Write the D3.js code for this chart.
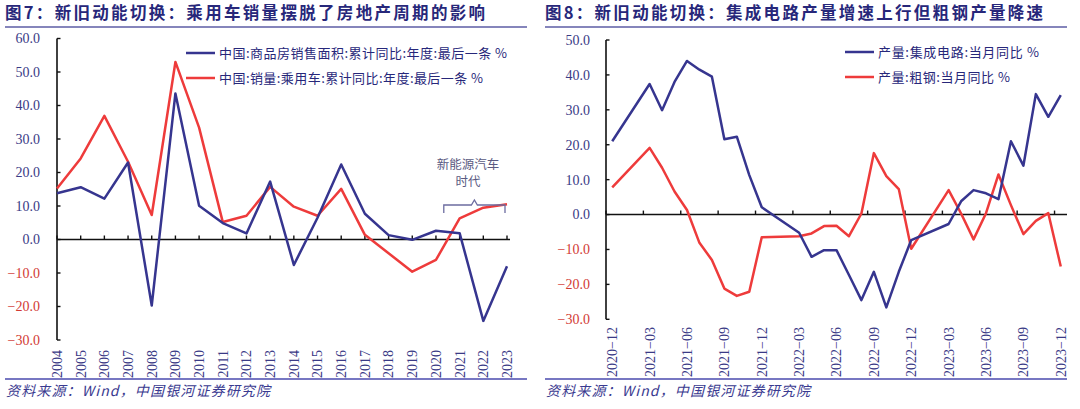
<!DOCTYPE html>
<html><head><meta charset="utf-8">
<script src="https://cdn.jsdelivr.net/npm/d3@7"></script>
<style>
html,body{margin:0;padding:0;background:#fff;}
svg{display:block;}
</style></head>
<body>
<svg id="c" width="1080" height="409"></svg>
<script>
// ---------- Data: chart 1 (annual) ----------
const years = ["2004","2005","2006","2007","2008","2009","2010","2011","2012","2013","2014","2015","2016","2017","2018","2019","2020","2021","2022","2023"];
const housingSales = [13.8,15.6,12.2,23.0,-19.7,43.6,10.1,4.9,1.8,17.3,-7.6,6.5,22.4,7.7,1.3,-0.1,2.6,1.9,-24.3,-8.0];
const carSales = [15.2,24.2,36.9,23.2,7.3,53.0,33.4,5.2,7.1,15.7,9.8,7.1,15.1,1.4,-4.1,-9.6,-6.1,6.3,9.5,10.5];
const leftTicks = [60,50,40,30,20,10,0,-10,-20,-30];
const leftLegend = ["中国:商品房销售面积:累计同比:年度:最后一条 %","中国:销量:乘用车:累计同比:年度:最后一条 %"];

// ---------- Data: chart 2 (monthly) ----------
const months = ["2020-12","2021-01","2021-02","2021-03","2021-04","2021-05","2021-06","2021-07","2021-08","2021-09","2021-10","2021-11","2021-12",
  "2022-01","2022-02","2022-03","2022-04","2022-05","2022-06","2022-07","2022-08","2022-09","2022-10","2022-11","2022-12",
  "2023-01","2023-02","2023-03","2023-04","2023-05","2023-06","2023-07","2023-08","2023-09","2023-10","2023-11","2023-12"];
const icOutput = [21.0,null,null,37.4,29.9,38.0,44.0,41.5,39.5,21.6,22.3,11.3,2.1,
  null,null,-5.2,-12.1,-10.2,-10.2,-17.3,-24.5,-16.4,-26.6,-16.4,-7.3,
  null,null,-2.7,3.8,7.0,6.1,4.4,21.0,14.0,34.5,28.0,34.2];
const steelOutput = [7.8,null,null,19.1,13.4,6.6,1.3,-8.1,-13.0,-21.2,-23.3,-22.1,-6.5,
  null,null,-6.2,-5.4,-3.3,-3.2,-6.2,0.3,17.6,11.0,7.3,-9.8,
  null,null,7.0,0.3,-7.1,0.4,11.5,2.7,-5.6,-1.8,0.4,-14.9];
const rightTicks = [50,40,30,20,10,0,-10,-20,-30];
const rightLegend = ["产量:集成电路:当月同比 %","产量:粗钢:当月同比 %"];

const titles = ["图7：新旧动能切换：乘用车销量摆脱了房地产周期的影响","图8：新旧动能切换：集成电路产量增速上行但粗钢产量降速"];
const source = "资料来源：Wind，中国银河证券研究院";
const annotation = ["新能源汽车","时代"];

// ---------- Styles ----------
const BLUE = "#36358f", RED = "#ee3b3b", NAVY = "#27277a", LBL_BLUE = "#3a3a86", LBL_RED = "#d23a35";
const CJK = "'Noto Sans CJK SC','Noto Sans',sans-serif";
const SERIF = "'Liberation Serif','DejaVu Serif',serif";

const svg = d3.select("#c");

function header(x0, x1, title, tlen){
  svg.append("text").attr("x", x0).attr("y", 19).attr("font-family", CJK).attr("font-weight", 700)
    .attr("font-size", 16.5).attr("fill", NAVY).attr("textLength", tlen)
    .attr("lengthAdjust", "spacing").text(title);
  svg.append("line").attr("x1", x0).attr("x2", x1).attr("y1", 27).attr("y2", 27)
    .attr("stroke", "#8585bb").attr("stroke-width", 2.2);
  svg.append("line").attr("x1", x0).attr("x2", x1).attr("y1", 379).attr("y2", 379)
    .attr("stroke", "#7777c2").attr("stroke-width", 2);
  svg.append("text").attr("x", x0 + 1).attr("y", 396).attr("font-family", CJK).attr("font-style", "italic")
    .attr("font-size", 14).attr("fill", "#3a3a90").attr("textLength", 264).attr("lengthAdjust","spacing").text(source);
}

function yAxis(g, y, ticks, x, labelX){
  g.append("line").attr("x1", x).attr("x2", x).attr("y1", y(ticks[0])).attr("y2", y(ticks[ticks.length-1]))
    .attr("stroke", "#111").attr("stroke-width", 1.6);
  ticks.forEach(t => {
    g.append("line").attr("x1", x).attr("x2", x + 3.5).attr("y1", y(t)).attr("y2", y(t)).attr("stroke", "#111").attr("stroke-width", 1.4);
    g.append("text").attr("x", labelX).attr("y", y(t)).attr("dy", "0.35em").attr("text-anchor", "end")
      .attr("font-family", SERIF).attr("font-size", 14).attr("fill", t < 0 ? LBL_RED : LBL_BLUE)
      .text(d3.format(".1f")(t).replace("-", "−"));
  });
}

function legend(g, x, y0, labels, lens){
  labels.forEach((lab, i) => {
    const yy = y0 + i * 25;
    g.append("line").attr("x1", x).attr("x2", x + 29).attr("y1", yy).attr("y2", yy)
      .attr("stroke", i === 0 ? BLUE : RED).attr("stroke-width", 2.5);
    g.append("text").attr("x", x + 33).attr("y", yy).attr("dy", "0.35em").attr("font-family", CJK)
      .attr("font-size", 13).attr("fill", NAVY).attr("textLength", lens[i]).attr("lengthAdjust","spacing").text(lab);
  });
}

// ================= Chart 1 =================
header(5, 527, titles[0], 480);
{
  const g = svg.append("g");
  const x = d3.scalePoint().domain(years).range([57, 507]);
  const y = d3.scaleLinear().domain([-30, 60]).range([340, 38.5]);
  yAxis(g, y, leftTicks, 57, 40);
  g.append("line").attr("x1", 57).attr("x2", 510).attr("y1", y(0)).attr("y2", y(0)).attr("stroke", "#111").attr("stroke-width", 1.6);
  years.forEach(yr => {
    g.append("line").attr("x1", x(yr)).attr("x2", x(yr)).attr("y1", y(0)).attr("y2", y(0) - 4).attr("stroke", "#111").attr("stroke-width", 1.4);
    g.append("text").attr("transform", `translate(${x(yr)},350) rotate(-90)`).attr("dy", "0.35em")
      .attr("text-anchor", "end").attr("font-family", SERIF).attr("font-size", 14).attr("fill", LBL_BLUE).text(yr);
  });
  const line = d3.line().x((d, i) => x(years[i])).y(d => y(d));
  g.append("path").datum(carSales).attr("d", line).attr("fill", "none").attr("stroke", RED).attr("stroke-width", 2.5).attr("stroke-linejoin","round");
  g.append("path").datum(housingSales).attr("d", line).attr("fill", "none").attr("stroke", BLUE).attr("stroke-width", 2.5).attr("stroke-linejoin","round");
  legend(g, 186, 53, leftLegend, [288, 264]);
  g.append("text").attr("x", 468).attr("y", 165).attr("dy","0.35em").attr("text-anchor","middle").attr("font-family", CJK)
    .attr("font-size", 12.5).attr("fill", "#5a5a82").text(annotation[0]);
  g.append("text").attr("x", 468).attr("y", 182).attr("dy","0.35em").attr("text-anchor","middle").attr("font-family", CJK)
    .attr("font-size", 12.5).attr("fill", "#5a5a82").text(annotation[1]);
  const bx0 = (x("2020") + x("2021")) / 2 - 4, bx1 = x("2023") - 2, bm = (bx0 + bx1) / 2;
  g.append("path").attr("d", `M${bx0},213 L${bx0},205 L${bm-3},205 L${bm},200 L${bm+3},205 L${bx1},205 L${bx1},213`)
    .attr("fill","none").attr("stroke","#6c6ca0").attr("stroke-width",1.3);
}

// ================= Chart 2 =================
header(545, 1067, titles[1], 498);
{
  const g = svg.append("g");
  const x = d3.scaleBand().domain(months).range([606, 1067]);
  const cx = m => x(m) + x.bandwidth() / 2;
  const y = d3.scaleLinear().domain([-30, 50]).range([319.3, 40]);
  yAxis(g, y, rightTicks, 606, 590);
  g.append("line").attr("x1", 606).attr("x2", 1067).attr("y1", y(0)).attr("y2", y(0)).attr("stroke", "#111").attr("stroke-width", 1.6);
  months.forEach((m, i) => {
    if (i % 3 !== 0) return;
    g.append("line").attr("x1", x(m)).attr("x2", x(m)).attr("y1", y(0)).attr("y2", y(0) - 4).attr("stroke", "#111").attr("stroke-width", 1.4);
    g.append("text").attr("transform", `translate(${cx(m)},327) rotate(-90)`).attr("dy", "0.35em")
      .attr("text-anchor", "end").attr("font-family", SERIF).attr("font-size", 14).attr("fill", LBL_BLUE).text(m.replace("-", "−"));
  });
  const line = d3.line().x(d => cx(d.m)).y(d => y(d.v));
  const pts = arr => months.map((m, i) => ({m, v: arr[i]})).filter(d => d.v !== null);
  g.append("path").datum(pts(steelOutput)).attr("d", line).attr("fill", "none").attr("stroke", RED).attr("stroke-width", 2.5).attr("stroke-linejoin","round");
  g.append("path").datum(pts(icOutput)).attr("d", line).attr("fill", "none").attr("stroke", BLUE).attr("stroke-width", 2.5).attr("stroke-linejoin","round");
  legend(g, 845, 52, rightLegend, [161, 132]);
}
</script>
</body></html>
